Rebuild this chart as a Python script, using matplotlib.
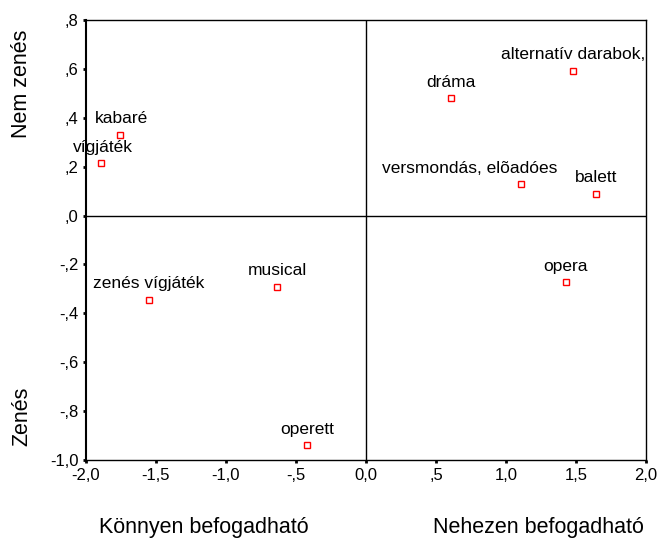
import matplotlib
matplotlib.use("Agg")
import matplotlib.pyplot as plt

plt.rcParams['font.family'] = ['Liberation Sans', 'DejaVu Sans']

labels = ["kabaré", "vígjáték", "zenés vígjáték", "musical", "operett",
          "opera", "dráma", "alternatív darabok,", "versmondás, elõadóes", "balett"]
xs = [-1.757, -1.893, -1.55, -0.636, -0.419, 1.426, 0.605, 1.476, 1.107, 1.643]
ys = [0.330, 0.213, -0.345, -0.292, -0.940, -0.273, 0.479, 0.593, 0.128, 0.090]
label_dx = [1, 2, 0, 0, 0, 0, 0, 0, -51, 0]  # pixel offsets of labels

xticks = [-2.0, -1.5, -1.0, -0.5, 0.0, 0.5, 1.0, 1.5, 2.0]
xticklabels = ["-2,0", "-1,5", "-1,0", "-,5", "0,0", ",5", "1,0", "1,5", "2,0"]
yticks = [0.8, 0.6, 0.4, 0.2, 0.0, -0.2, -0.4, -0.6, -0.8, -1.0]
yticklabels = [",8", ",6", ",4", ",2", ",0", "-,2", "-,4", "-,6", "-,8", "-1,0"]

fig = plt.figure(figsize=(6.61, 5.40), dpi=100)
ax = fig.add_axes([86/661, 1-460/540, 560/661, 440/540])
ax.set_xlim(-2, 2)
ax.set_ylim(-1.0, 0.8)

ax.axhline(0, color='black', lw=1.0, zorder=1)
ax.axvline(0, color='black', lw=1.0, zorder=1)

ax.plot(xs, ys, linestyle='none', marker='s', markersize=4.2,
        markerfacecolor='white', markeredgecolor='red', markeredgewidth=1.0, zorder=3)
for lab, x, y, dx in zip(labels, xs, ys, label_dx):
    ax.annotate(lab, (x, y), xytext=(dx, 16), textcoords='offset pixels',
                ha='center', va='center', fontsize=12.5, color='black')

ax.set_xticks(xticks)
ax.set_xticklabels(xticklabels, fontsize=12)
ax.set_yticks(yticks)
ax.set_yticklabels(yticklabels, fontsize=12)
ax.tick_params(direction='out', length=2.5, width=2, pad=3, color='black')

ax.spines['left'].set_linewidth(1.5)
ax.spines['bottom'].set_linewidth(1.0)
ax.spines['top'].set_linewidth(1.0)
ax.spines['right'].set_linewidth(1.0)

fig.text(204/661, 1-527/540, "Könnyen befogadható", ha='center', va='center', fontsize=15.5)
fig.text(538/661, 1-527/540, "Nehezen befogadható", ha='center', va='center', fontsize=15.5)
fig.text(22/661, 1-84/540, "Nem zenés", ha='center', va='center', rotation=90, fontsize=15.5)
fig.text(22/661, 1-416/540, "Zenés", ha='center', va='center', rotation=90, fontsize=15.5)

fig.savefig("out.png", dpi=100)
